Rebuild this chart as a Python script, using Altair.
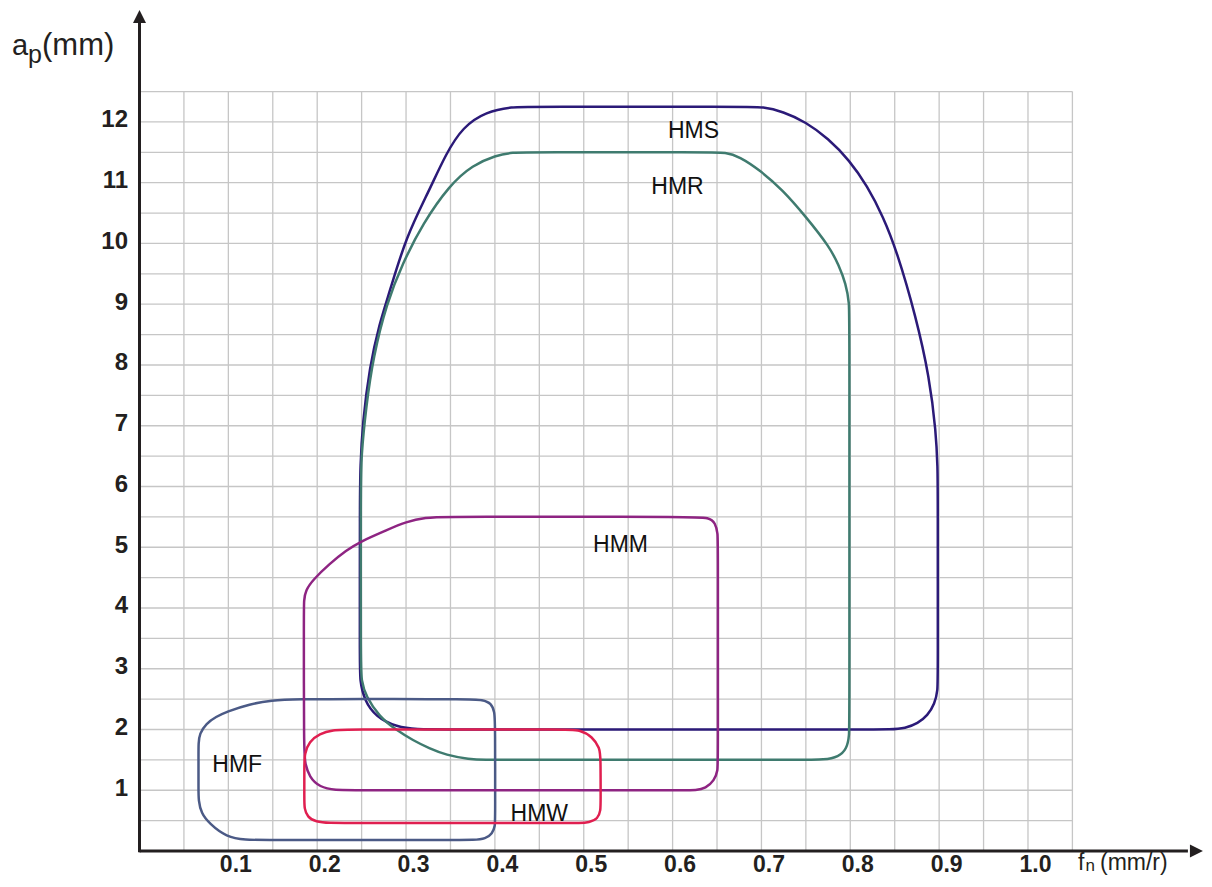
import altair as alt
import pandas as pd

# ---------------- data ----------------
x_ticks = [0.1, 0.2, 0.3, 0.4, 0.5, 0.6, 0.7, 0.8, 0.9, 1.0]
y_ticks = [1, 2, 3, 4, 5, 6, 7, 8, 9, 10, 11, 12]
x_grid = [0.05, 0.10, 0.15, 0.20, 0.25, 0.30, 0.35, 0.40, 0.45, 0.50, 0.55,
          0.60, 0.65, 0.70, 0.75, 0.80, 0.85, 0.90, 0.95, 1.00, 1.05]
y_grid = [0.5, 1.0, 1.5, 2.0, 2.5, 3.0, 3.5, 4.0, 4.5, 5.0, 5.5, 6.0, 6.5,
          7.0, 7.5, 8.0, 8.5, 9.0, 9.5, 10.0, 10.5, 11.0, 11.5, 12.0, 12.5]
grid_x_top = 12.5
grid_y_right = 1.05

names = ["HMS", "HMR", "HMF", "HMM", "HMW"]
colors = ["#2b1a78", "#3f7b6f", "#4b5a86", "#8e2482", "#e01f50"]

HMS = [(0.60, 2.0), (0.82, 2.0), (0.845, 2.0), (0.862, 2.02), (0.876, 2.1),
       (0.887, 2.23), (0.895, 2.42), (0.8985, 2.65), (0.8985, 2.9), (0.8985, 5.9),
       (0.8983, 6.3), (0.8965, 6.9), (0.889, 7.80), (0.874, 8.79), (0.852, 9.89),
       (0.837, 10.44), (0.819, 10.95), (0.799, 11.37), (0.775, 11.73), (0.750, 12.0),
       (0.724, 12.17), (0.702, 12.25), (0.68, 12.25), (0.44, 12.25),
       (0.420, 12.25), (0.390, 12.17), (0.364, 11.92), (0.345, 11.48), (0.326, 10.87),
       (0.300, 10.11), (0.281, 9.18), (0.270, 8.68), (0.259, 7.97), (0.251, 7.04),
       (0.2485, 6.3), (0.248, 5.8), (0.248, 3.1), (0.248, 2.81), (0.253, 2.48),
       (0.266, 2.21), (0.289, 2.04), (0.315, 2.0), (0.33, 2.0), (0.60, 2.0)]

HMR = [(0.60, 1.5), (0.75, 1.5), (0.77, 1.5), (0.787, 1.55), (0.796, 1.68),
       (0.799, 1.9), (0.799, 2.2), (0.799, 8.7), (0.799, 9.01), (0.795, 9.34),
       (0.787, 9.64), (0.777, 9.94), (0.750, 10.44), (0.724, 10.88), (0.698, 11.21),
       (0.675, 11.43), (0.660, 11.50), (0.64, 11.5), (0.44, 11.5), (0.420, 11.5),
       (0.401, 11.45), (0.375, 11.29), (0.349, 10.96), (0.319, 10.33), (0.296, 9.67),
       (0.278, 9.01), (0.263, 8.13), (0.255, 7.31), (0.2495, 6.49), (0.249, 6.0),
       (0.249, 3.1), (0.2495, 2.81), (0.255, 2.54), (0.270, 2.21), (0.289, 1.99),
       (0.308, 1.82), (0.326, 1.69), (0.345, 1.58), (0.371, 1.51), (0.390, 1.5),
       (0.41, 1.5), (0.60, 1.5)]

HMF = [(0.27, 2.5), (0.37, 2.5), (0.3865, 2.49), (0.396, 2.43), (0.3996, 2.29),
       (0.4003, 2.1), (0.4003, 0.6), (0.4003, 0.40), (0.397, 0.29), (0.390, 0.20),
       (0.375, 0.18), (0.36, 0.18), (0.14, 0.18), (0.120, 0.18), (0.0976, 0.23),
       (0.0788, 0.45), (0.0694, 0.62), (0.0664, 0.84), (0.0664, 1.0), (0.0664, 1.6),
       (0.0664, 1.77), (0.0675, 1.93), (0.075, 2.10), (0.0863, 2.21), (0.0976, 2.29),
       (0.1238, 2.42), (0.150, 2.48), (0.17, 2.5), (0.27, 2.5)]

HMM = [(0.45, 5.5), (0.62, 5.5), (0.6415, 5.49), (0.648, 5.40), (0.651, 5.23),
       (0.651, 5.0), (0.651, 1.5), (0.651, 1.33), (0.647, 1.16), (0.637, 1.03),
       (0.627, 1.0), (0.61, 1.0), (0.24, 1.0), (0.221, 1.0), (0.2026, 1.05),
       (0.191, 1.22), (0.1865, 1.44), (0.185, 1.6), (0.185, 3.9), (0.185, 4.13),
       (0.187, 4.29), (0.195, 4.46), (0.214, 4.73), (0.233, 4.95), (0.248, 5.09),
       (0.278, 5.28), (0.300, 5.42), (0.323, 5.49), (0.34, 5.5), (0.45, 5.5)]

HMW = [(0.35, 2.0), (0.48, 2.0), (0.495, 2.0), (0.510, 1.88), (0.518, 1.69),
       (0.519, 1.55), (0.519, 0.8), (0.519, 0.67), (0.516, 0.53), (0.506, 0.47),
       (0.495, 0.46), (0.48, 0.46), (0.23, 0.46), (0.215, 0.46), (0.198, 0.48),
       (0.189, 0.56), (0.1855, 0.7), (0.1855, 0.85), (0.1855, 1.4), (0.1857, 1.60),
       (0.191, 1.80), (0.2026, 1.93), (0.2176, 1.99), (0.235, 2.0), (0.35, 2.0)]

shapes = {"HMS": HMS, "HMR": HMR, "HMF": HMF, "HMM": HMM, "HMW": HMW}

label_names = ["HMS", "HMR", "HMM", "HMF", "HMW"]
label_x = [0.6235, 0.6055, 0.5414, 0.110, 0.450]
label_y = [11.85, 10.93, 5.03, 1.41, 0.61]

# axis extents (data units)
X_MAX = 1.1981
Y_MAX = 13.81
x_axis_end = 1.18
y_axis_end = 13.70
arrow_x = [1.1896, 0.0]
arrow_y = [0.0, 13.736]
arrow_shape = ["M1,0L-1,-1L-1,1Z", "M0,-1L1,1L-1,1Z"]

# ---------------- chart ----------------
W, H = 1064.5, 839
FONT = "Liberation Sans"
INK = "#231f20"

xs = alt.Scale(domain=[0, X_MAX], nice=False, zero=False)
ys = alt.Scale(domain=[0, Y_MAX], nice=False, zero=False)

xaxis = alt.Axis(values=x_ticks, format=".1f", title=None, grid=False, ticks=False,
                 domain=False, labelFontSize=23, labelFontWeight="bold",
                 labelFont=FONT, labelColor=INK, labelPadding=20,
                 labelBaseline="alphabetic", labelOffset=7, labelOverlap=False,
                 labelFlush=False)
yaxis = alt.Axis(values=y_ticks, format="d", title=None, grid=False, ticks=False,
                 domain=False, labelFontSize=24, labelFontWeight="bold",
                 labelFont=FONT, labelColor=INK, labelPadding=12,
                 labelOffset=-2, labelOverlap=False, labelFlush=False)


def X(f):
    return alt.X(f, type="quantitative", scale=xs, axis=xaxis)


def Y(f):
    return alt.Y(f, type="quantitative", scale=ys, axis=yaxis)


vgrid_df = pd.DataFrame({"x": x_grid, "y0": 0.0, "y1": grid_x_top})
hgrid_df = pd.DataFrame({"y": y_grid, "x0": 0.0, "x1": grid_y_right})

vgrid = alt.Chart(vgrid_df).mark_rule(color="#c6c6c6", strokeWidth=1.3).encode(
    x=X("x"), y=Y("y0"), y2="y1")
hgrid = alt.Chart(hgrid_df).mark_rule(color="#c6c6c6", strokeWidth=1.3).encode(
    y=Y("y"), x=X("x0"), x2="x1")

layers = [vgrid, hgrid]
for name, col in zip(names, colors):
    pts = shapes[name]
    df = pd.DataFrame({"i": list(range(len(pts))),
                       "x": [p[0] for p in pts],
                       "y": [p[1] for p in pts]})
    layers.append(
        alt.Chart(df).mark_line(interpolate="basis", strokeWidth=2.5,
                                color=col, strokeCap="round", strokeJoin="round")
        .encode(x=X("x"), y=Y("y"), order=alt.Order("i:Q"))
    )

lab_df = pd.DataFrame({"t": label_names, "x": label_x, "y": label_y})
labels = alt.Chart(lab_df).mark_text(font=FONT, fontSize=23, color="#111111",
                                     align="center", baseline="middle").encode(
    x=X("x"), y=Y("y"), text="t:N")
layers.append(labels)

# axis lines
xline = alt.Chart(pd.DataFrame({"x0": [0.0], "x1": [x_axis_end], "y": [0.0]})).mark_rule(
    color=INK, strokeWidth=3).encode(x=X("x0"), x2="x1", y=Y("y"))
yline = alt.Chart(pd.DataFrame({"y0": [-0.02], "y1": [y_axis_end], "x": [0.0]})).mark_rule(
    color=INK, strokeWidth=3).encode(y=Y("y0"), y2="y1", x=X("x"))
layers += [xline, yline]
for ax, ay, sh in zip(arrow_x, arrow_y, arrow_shape):
    layers.append(
        alt.Chart(pd.DataFrame({"x": [ax], "y": [ay]})).mark_point(
            shape=sh, filled=True, size=169, color=INK, opacity=1, strokeWidth=0)
        .encode(x=X("x"), y=Y("y"))
    )

# axis titles (with subscripts)
def txt(t, px, py, size):
    return alt.Chart(pd.DataFrame({"t": [t]})).mark_text(
        font=FONT, fontSize=size, color=INK, align="left", baseline="alphabetic"
    ).encode(x=alt.value(px), y=alt.value(py), text="t:N")

layers += [
    txt("a", -127.5, 43, 29), txt("p", -111.5, 51, 25), txt("(mm)", -97.5, 43, 31),
    txt("f", 938.5, 858, 23), txt("n", 946.0, 858.5, 17), txt("(mm/r)", 960.5, 858, 23),
]

chart = alt.layer(*layers).properties(
    width=W, height=H,
    autosize=alt.AutoSizeParams(type="none"),
    padding={"left": 131.5, "top": 4, "right": 0, "bottom": 24},
    background="white",
).configure_view(stroke=None)

chart.save("out.html", embed_options={"renderer": "svg", "actions": False})
